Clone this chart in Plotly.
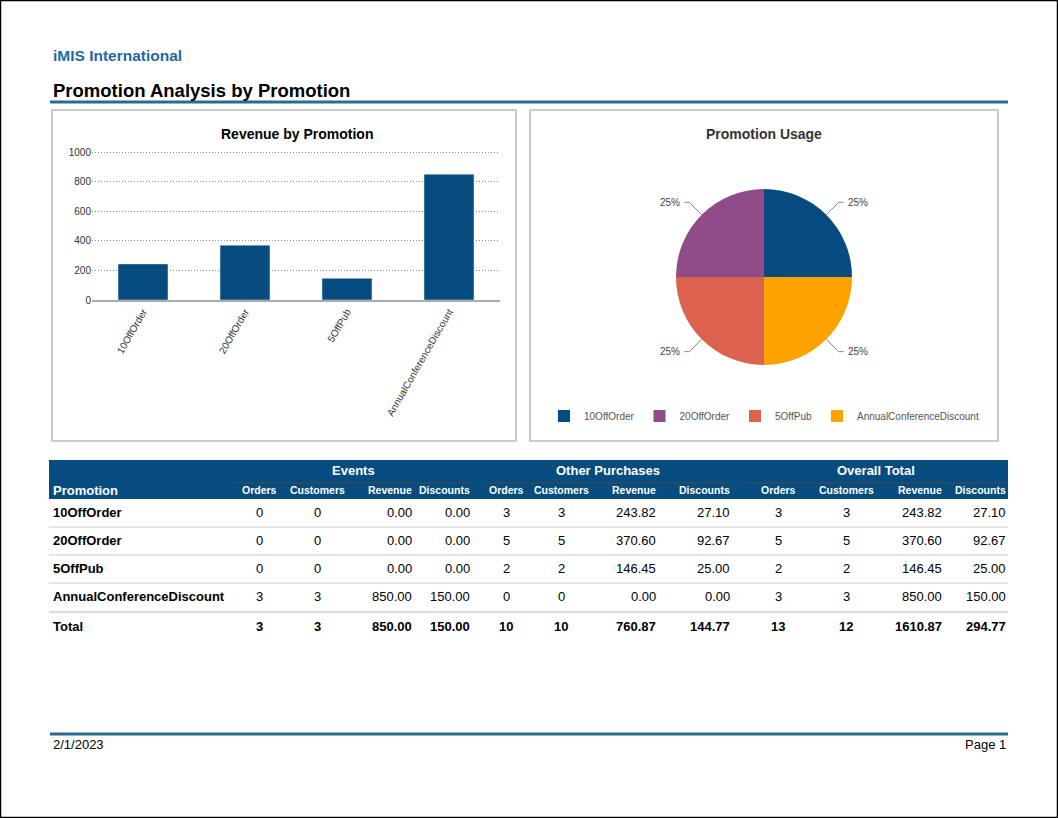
import math
import plotly.graph_objects as go

W, H = 1058, 818
FONT = "Liberation Sans, Arial, sans-serif"
NAVY = "#064c7e"
RULE = "#2a6b93"

# ---- data -----------------------------------------------------------
promotions = ["10OffOrder", "20OffOrder", "5OffPub", "AnnualConferenceDiscount"]

ev_orders = [0, 0, 0, 3]
ev_customers = [0, 0, 0, 3]
ev_revenue = [0.00, 0.00, 0.00, 850.00]
ev_discounts = [0.00, 0.00, 0.00, 150.00]

op_orders = [3, 5, 2, 0]
op_customers = [3, 5, 2, 0]
op_revenue = [243.82, 370.60, 146.45, 0.00]
op_discounts = [27.10, 92.67, 25.00, 0.00]

all_orders = [3, 5, 2, 3]
all_customers = [3, 5, 2, 3]
all_revenue = [243.82, 370.60, 146.45, 850.00]
all_discounts = [27.10, 92.67, 25.00, 150.00]

total_row = [3, 3, 850.00, 150.00, 10, 10, 760.87, 144.77, 13, 12, 1610.87, 294.77]

usage = [1, 1, 1, 1]
pie_colors = ["#064a7f", "#8f4c88", "#da624f", "#ffa200"]

report_company = "iMIS International"
report_title = "Promotion Analysis by Promotion"
report_date = "2/1/2023"
page_label = "Page 1"


def px(x):
    return x / W


def py(y):
    return 1 - y / H


fig = go.Figure()

# ---- bar chart ------------------------------------------------------
fig.add_trace(go.Bar(
    x=promotions, y=all_revenue, marker_color=NAVY, width=0.49,
    showlegend=False, hoverinfo="skip", xaxis="x", yaxis="y"))

# ---- pie chart ------------------------------------------------------
pcx, pcy, pr = 764, 277, 88
fig.add_trace(go.Pie(
    labels=promotions, values=usage, sort=False,
    direction="counterclockwise", rotation=0,
    marker=dict(colors=pie_colors, line=dict(width=0)),
    textinfo="none", hoverinfo="skip",
    domain=dict(x=[px(pcx - pr), px(pcx + pr)], y=[py(pcy + pr), py(pcy - pr)])))

shapes = []
annotations = []

# pie leader lines + percentage labels, from slice angles
tot = sum(usage)
cum = 0
start = 0.0  # 3 o'clock, counterclockwise
for v in usage:
    frac = v / tot
    mid = math.radians(start + (cum + frac / 2) * 360)
    cum += frac
    ex, ey = pcx + pr * math.cos(mid), pcy - pr * math.sin(mid)
    kx, ky = pcx + pr * 1.2 * math.cos(mid), pcy - pr * 1.2 * math.sin(mid)
    side = 1 if math.cos(mid) >= 0 else -1
    hx = kx + 5 * side
    for (a, b, c, d) in [(ex, ey, kx, ky), (kx, ky, hx, ky)]:
        shapes.append(dict(type="line", xref="paper", yref="paper",
                           x0=px(a), y0=py(b), x1=px(c), y1=py(d),
                           line=dict(color="#888", width=1)))
    annotations.append(dict(
        x=px(hx + 2 * side), y=py(ky), xref="paper", yref="paper",
        text=f"{frac * 100:.0f}%", showarrow=False,
        xanchor="left" if side > 0 else "right", yanchor="middle",
        font=dict(size=10, color="#444", family=FONT)))

# ---- page frame and header -----------------------------------------
shapes.append(dict(type="rect", xref="paper", yref="paper",
                   x0=px(0.5), y0=py(817.5), x1=px(1057.5), y1=py(0.5),
                   line=dict(color="#000", width=1.5)))
shapes.append(dict(type="line", xref="paper", yref="paper",
                   x0=px(50), x1=px(1008), y0=py(102), y1=py(102),
                   line=dict(color=RULE, width=3)))
shapes.append(dict(type="line", xref="paper", yref="paper",
                   x0=px(50), x1=px(1008), y0=py(734), y1=py(734),
                   line=dict(color=RULE, width=3)))
for (a, b) in [(52, 516), (530, 998)]:
    shapes.append(dict(type="rect", xref="paper", yref="paper",
                       x0=px(a), x1=px(b), y0=py(441), y1=py(110),
                       line=dict(color="#bbbbbb", width=1.5)))

annotations += [
    dict(x=px(51), y=py(56), text=f"<b>{report_company}</b>", xanchor="left",
         font=dict(size=15.5, color="#1d6aa5", family=FONT)),
    dict(x=px(51), y=py(90), text=f"<b>{report_title}</b>", xanchor="left",
         font=dict(size=18.5, color="#000", family=FONT)),
    dict(x=px(297), y=py(134), text="<b>Revenue by Promotion</b>", xanchor="center",
         font=dict(size=14, color="#000", family=FONT)),
    dict(x=px(764), y=py(134), text="<b>Promotion Usage</b>", xanchor="center",
         font=dict(size=14, color="#333", family=FONT)),
    dict(x=px(51), y=py(744), text=report_date, xanchor="left",
         font=dict(size=13, color="#000", family=FONT)),
    dict(x=px(1008), y=py(744), text=page_label, xanchor="right",
         font=dict(size=13, color="#000", family=FONT)),
]

# ---- table ----------------------------------------------------------
shapes.append(dict(type="rect", xref="paper", yref="paper",
                   x0=px(49), x1=px(1008), y0=py(499), y1=py(460),
                   fillcolor=NAVY, line=dict(width=0), layer="below"))

groups = [("Events", 353, 233, 472), ("Other Purchases", 608, 483, 732),
          ("Overall Total", 876, 743, 1008)]
for name, gx, g0, g1 in groups:
    annotations.append(dict(x=px(gx), y=py(470), text=f"<b>{name}</b>",
                            xanchor="center", font=dict(size=13, color="#fff", family=FONT)))
    shapes.append(dict(type="line", xref="paper", yref="paper",
                       x0=px(g0), x1=px(g1), y0=py(483), y1=py(483),
                       line=dict(color="#4a4a4a", width=1.2)))

sub_names = ["Orders", "Customers", "Revenue", "Discounts"] * 3
col_x = [259, 317, 414, 472, 506, 561, 658, 732, 778, 846, 944, 1008]
col_anchor = ["center", "center", "right", "right"] * 3

annotations.append(dict(x=px(51), y=py(490), text="<b>Promotion</b>", xanchor="left",
                        font=dict(size=13, color="#fff", family=FONT)))
for name, cx, anc in zip(sub_names, col_x, col_anchor):
    annotations.append(dict(x=px(cx), y=py(490), text=f"<b>{name}</b>", xanchor=anc,
                            font=dict(size=10.5, color="#fff", family=FONT)))

columns = [ev_orders, ev_customers, ev_revenue, ev_discounts,
           op_orders, op_customers, op_revenue, op_discounts,
           all_orders, all_customers, all_revenue, all_discounts]
money = [False, False, True, True] * 3


def fmt(v, is_money):
    return f"{v:.2f}" if is_money else f"{v}"


row_y = [512, 540, 568, 596]
for i, name in enumerate(promotions):
    y = row_y[i]
    annotations.append(dict(x=px(51), y=py(y), text=f"<b>{name}</b>", xanchor="left",
                            font=dict(size=13, color="#000", family=FONT)))
    for col, cx, anc, m in zip(columns, col_x, col_anchor, money):
        annotations.append(dict(x=px(cx), y=py(y), text=fmt(col[i], m), xanchor=anc,
                                font=dict(size=13, color="#000", family=FONT)))

annotations.append(dict(x=px(51), y=py(626), text="<b>Total</b>", xanchor="left",
                        font=dict(size=13, color="#000", family=FONT)))
for v, cx, anc, m in zip(total_row, col_x, col_anchor, money):
    annotations.append(dict(x=px(cx), y=py(626), text=f"<b>{fmt(v, m)}</b>", xanchor=anc,
                            font=dict(size=13, color="#000", family=FONT)))

for y, w in [(527, 1.5), (555, 1.5), (583, 1.5), (612, 2.5)]:
    shapes.append(dict(type="line", xref="paper", yref="paper",
                       x0=px(49), x1=px(1008), y0=py(y), y1=py(y),
                       line=dict(color="#dedede", width=w)))

for a in annotations:
    a.setdefault("xref", "paper")
    a.setdefault("yref", "paper")
    a.setdefault("showarrow", False)
    a.setdefault("yanchor", "middle")

# y range padded past 1000 so the top gridline is not clipped at the edge
y_top = 1015
fig.update_layout(
    width=W, height=H,
    margin=dict(l=0, r=0, t=0, b=0, pad=0, autoexpand=False),
    paper_bgcolor="#fff", plot_bgcolor="#fff",
    font=dict(family=FONT, color="#333"),
    xaxis=dict(domain=[px(92), px(500)], anchor="y", showgrid=False, automargin=False,
               tickangle=-60, tickfont=dict(size=10, color="#333"),
               showline=True, linecolor="#aaaaaa", linewidth=2, ticks=""),
    yaxis=dict(domain=[py(300), py(300 - 148 * y_top / 1000)], anchor="x",
               range=[0, y_top], automargin=False,
               tickvals=[0, 200, 400, 600, 800, 1000], showgrid=True,
               gridcolor="#888", griddash="1px,2px", gridwidth=1, zeroline=False,
               showline=False, tickfont=dict(size=10, color="#333"), ticks=""),
    showlegend=True,
    legend=dict(orientation="h", x=px(764), xanchor="center", y=py(416),
                yanchor="middle", font=dict(size=10, color="#555", family=FONT),
                bgcolor="rgba(0,0,0,0)", itemwidth=30),
    shapes=shapes,
    annotations=annotations,
    bargap=0.51,
)

fig.write_html(
    "out.html",
    config={"displayModeBar": False},
    post_script=(
        "document.documentElement.style.margin='0';"
        "document.body.style.margin='0';document.body.style.padding='0';"
        "var gd=document.getElementById('{plot_id}');"
        "gd.style.position='absolute';gd.style.top='0px';gd.style.left='0px';"
    ),
)
